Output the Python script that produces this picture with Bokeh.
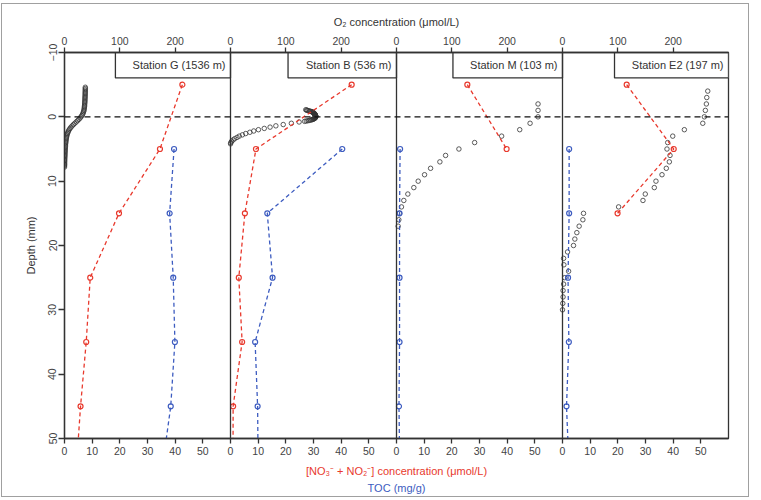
from bokeh.plotting import figure
from bokeh.models import Range1d, LinearAxis, FixedTicker, Span, Title
from bokeh.core.properties import value
from bokeh.embed import file_html
from bokeh.resources import INLINE

# ---- stations -------------------------------------------------------------
stations = ["G", "B", "M", "E2"]
water_depth_m = [1536, 536, 103, 197]

# ---- O2 microprofiles: depth (mm) and O2 (umol/L) ----------------------------
o2_G_depth = [-4.6, -4.4, -4.2, -4.0, -3.8, -3.6, -3.4, -3.2, -3.0, -2.8, -2.6,
              -2.4, -2.2, -2.0, -1.8, -1.6, -1.4, -1.2, -1.0, -0.8, -0.6, -0.4,
              -0.2, 0.0, 0.2, 0.4, 0.6, 0.8, 1.0, 1.2, 1.4, 1.6, 1.8, 2.0, 2.2,
              2.4, 2.6, 2.8, 3.0, 3.2, 3.4, 3.6, 3.8, 4.0, 4.2, 4.4, 4.6, 4.8,
              5.0, 5.2, 5.4, 5.6, 5.8, 6.0, 6.2, 6.4, 6.6, 6.8, 7.0, 7.2, 7.4,
              7.6, 7.8]
o2_G = [37.6, 37.6, 37.5, 37.5, 37.4, 37.4, 37.3, 37.2, 37.1, 37.0, 36.9,
        36.8, 36.6, 36.5, 36.3, 36.1, 35.8, 35.5, 35.1, 34.5, 33.7, 32.7,
        31.4, 29.8, 28.0, 25.9, 23.6, 21.1, 18.6, 16.2, 13.9, 11.8, 10.0, 8.5,
        7.2, 6.2, 5.3, 4.6, 4.0, 3.5, 3.1, 2.8, 2.5, 2.2, 2.0, 1.8, 1.6, 1.4,
        1.3, 1.1, 1.0, 0.9, 0.8, 0.7, 0.6, 0.5, 0.4, 0.3, 0.3, 0.2, 0.2,
        0.1, 0.1]

o2_B_depth = [-1.1, -1.05, -1.0, -0.95, -0.9, -0.85, -0.8, -0.75, -0.7, -0.65,
              -0.6, -0.55, -0.5, -0.45, -0.4, -0.35, -0.3, -0.25, -0.2, -0.15,
              -0.1, -0.05, 0.0, 0.05, 0.1, 0.15, 0.2, 0.25, 0.3, 0.35, 0.4,
              0.45, 0.5, 0.55, 0.6, 0.65, 0.7,
              0.8, 1.0, 1.2, 1.4, 1.6, 1.8, 2.0, 2.2, 2.4, 2.6, 2.8, 3.0, 3.2,
              3.4, 3.6, 3.8, 4.0, 4.2]
o2_B = [136, 137.5, 139, 141, 143, 145, 147, 148, 149, 149.8,
        150.5, 151, 151.5, 152, 152.5, 152.9, 153.2, 153.5, 153.7, 153.9,
        154, 154, 154, 153.8, 153.5, 153, 152.5, 151.8, 151, 149.8, 148.5,
        147, 145, 142.7, 140, 137, 134,
        124, 110, 95.3, 82, 71.5, 61, 50.5, 42, 35, 27.5, 21.5, 15.8, 11.8,
        7.5, 4.6, 2.0, 0.6, 0.1]

o2_M_depth = [-2, -1, 0, 1, 2, 3, 4, 5, 6, 7, 8, 9, 10, 11, 12, 13, 14, 15,
              16, 17]
o2_M = [255.8, 255.8, 255.8, 241.4, 222.7, 190, 141.2, 112.8, 88.7, 78.4,
        61.6, 50.7, 39.2, 31.3, 20.5, 13.2, 9, 5.4, 4.2, 3]

o2_E2_depth = [-4, -3, -2, -1, 0, 1, 2, 3, 4, 5, 6, 7, 8, 9, 10, 11, 12, 13,
               14, 15, 16, 17, 18, 19, 20, 21, 22, 23, 24, 25, 26, 27, 28, 29,
               30]
o2_E2 = [262.5, 260.7, 260, 258.2, 256.4, 253.5, 220.2, 199.2, 190.1, 188.8,
         194.3, 193.1, 187.6, 179.8, 168.9, 165.9, 149.6, 145.4, 101.4, 38,
         36.8, 30.1, 25.9, 22.3, 19.9, 9.1, 2, 2.5, 11, 4, 2, 1, 1, 0.5, 0]

# ---- NO3- + NO2- (umol/L), bottom water (-5) and slice mid-depths (mm) -------
nox_G_depth = [-5, 5, 15, 25, 35, 45, 55]
nox_G = [42.6, 34.5, 19.7, 9.3, 7.85, 5.8, 4.2]
nox_B_depth = [-5, 5, 15, 25, 35, 45, 55]
nox_B = [43.8, 9.2, 5.2, 3.0, 4.2, 0.95, 0.9]
nox_M_depth = [-5, 5]
nox_M = [25.6, 39.8]
nox_E2_depth = [-5, 5, 15]
nox_E2 = [23.2, 40.2, 19.9]

# ---- TOC (mg/g) at slice mid-depths (mm) -------------------------------------
toc_depth = [5, 15, 25, 35, 45, 55]
toc_G = [39.6, 38.0, 39.3, 39.9, 38.4, 35.2]
toc_B = [40.4, 13.3, 15.2, 8.9, 9.8, 10.0]
toc_M = [1.3, 1.1, 1.1, 1.1, 0.9, 1.2]
toc_E2 = [2.4, 2.4, 2.0, 2.3, 1.45, 2.4]

o2_ticks = [0, 100, 200]
low_ticks = [0, 10, 20, 30, 40, 50]
depth_ticks = [-10, 0, 10, 20, 30, 40, 50]

# ---- layout -------------------------------------------------------------------
FONT = "Liberation Sans"
RED = "#e8392d"
BLUE = "#3d5cc0"
INK = "#333333"
O2_SPAN = 300          # O2 units per panel
LOW_SPAN = 60          # NOx / TOC units per panel
n = len(stations)

# the canvas sits inside a thin grey page border
p = figure(width=748, height=494, output_backend="svg", toolbar_location=None,
           x_range=Range1d(0, O2_SPAN * n), y_range=Range1d(50, -10),
           x_axis_location="above",
           min_border_left=62, min_border_right=22,
           min_border_top=48, min_border_bottom=60,
           styles={"border": "1.5px solid #a0a0a0",
                   "margin-left": "1px", "margin-top": "3px"})
p.xgrid.visible = False
p.ygrid.visible = False
p.background_fill_color = "white"
p.border_fill_color = "white"
p.outline_line_color = INK
p.outline_line_width = 1.3

for k in range(n):
    p.extra_x_ranges[f"o2_{k}"] = Range1d(-O2_SPAN * k, O2_SPAN * (n - k))
    p.extra_x_ranges[f"low_{k}"] = Range1d(-LOW_SPAN * k, LOW_SPAN * (n - k))


def style_axis(ax, label_color=INK):
    ax.axis_line_color = INK
    ax.axis_line_width = 1.3
    ax.major_tick_line_color = INK
    ax.major_tick_line_width = 1.3
    ax.major_tick_in = 0
    ax.major_tick_out = 5
    ax.minor_tick_line_color = None
    ax.major_label_text_font = FONT
    ax.major_label_text_font_size = "10.5px"
    ax.major_label_text_color = "#444444"
    ax.axis_label_text_font = FONT
    ax.axis_label_text_font_size = "11px"
    ax.axis_label_text_font_style = "normal"
    ax.axis_label_text_color = label_color


# top axis: O2 per panel
top_ticks = [O2_SPAN * k + t for k in range(n) for t in o2_ticks]
top = p.xaxis[0]
top.ticker = FixedTicker(ticks=top_ticks)
top.major_label_overrides = {t: str(t % O2_SPAN) for t in top_ticks}
style_axis(top)
top.major_label_standoff = 3
top.axis_label = "O\u2082 concentration (\u03bcmol/L)"
top.axis_label_standoff = 6

# bottom axis: NOx / TOC per panel
bot_ticks = [LOW_SPAN * k + t for k in range(n) for t in low_ticks]
bottom = LinearAxis(x_range_name="low_0", ticker=FixedTicker(ticks=bot_ticks),
                    major_label_overrides={t: str(t % LOW_SPAN) for t in bot_ticks})
style_axis(bottom, RED)
bottom.major_label_standoff = 3
bottom.axis_label = "[NO\u2083\u207b + NO\u2082\u207b] concentration (\u03bcmol/L)"
bottom.axis_label_standoff = 7
p.add_layout(bottom, "below")
p.add_layout(Title(text="TOC (mg/g)", align="center", text_color=BLUE,
                   text_font=FONT, text_font_size="11px",
                   text_font_style="normal", standoff=0, offset=0), "below")

# depth axis
left = p.yaxis[0]
left.ticker = FixedTicker(ticks=depth_ticks)
left.major_label_overrides = {-10: "\u221210"}
left.major_label_orientation = "vertical"
style_axis(left)
left.major_tick_out = 6
left.major_label_standoff = 2
left.axis_label = "Depth (mm)"
left.axis_label_standoff = 9

# panel separators and sediment-water interface
for k in range(1, n):
    p.add_layout(Span(location=O2_SPAN * k, dimension="height",
                      line_color=INK, line_width=1.3))
p.add_layout(Span(location=0, dimension="width", line_color="#111111",
                  line_width=1.2, line_dash="6 4"))

o2_data = [(o2_G_depth, o2_G), (o2_B_depth, o2_B),
           (o2_M_depth, o2_M), (o2_E2_depth, o2_E2)]
nox_data = [(nox_G_depth, nox_G), (nox_B_depth, nox_B),
            (nox_M_depth, nox_M), (nox_E2_depth, nox_E2)]
toc_data = [toc_G, toc_B, toc_M, toc_E2]

for k in range(n):
    d, v = o2_data[k]
    p.scatter(x=v, y=d, x_range_name=f"o2_{k}", marker="circle", size=4.5,
              fill_color=None, line_color="#333333", line_width=0.8)

    d, v = nox_data[k]
    p.line(x=v, y=d, x_range_name=f"low_{k}", line_color=RED,
           line_width=1.3, line_dash="4 3")
    p.scatter(x=v, y=d, x_range_name=f"low_{k}", marker="circle", size=5,
              fill_color=None, line_color=RED, line_width=1.2)

    v = toc_data[k]
    p.line(x=v, y=toc_depth, x_range_name=f"low_{k}", line_color=BLUE,
           line_width=1.3, line_dash="4 3")
    p.scatter(x=v, y=toc_depth, x_range_name=f"low_{k}", marker="circle",
              size=5, fill_color=None, line_color=BLUE, line_width=1.2)

# station boxes in the upper right corner of each panel
box_left = [92, 404, 702, 994]
box_right = [O2_SPAN * (k + 1) for k in range(n)]
p.quad(left=box_left, right=box_right, top=-10, bottom=-6.05,
       fill_color="white", line_color=INK, line_width=1.3)
p.text(x=[r - 9 for r in box_right], y=[-8] * n,
       text=[f"Station {s} ({m} m)" for s, m in zip(stations, water_depth_m)],
       text_align="right", text_baseline="middle",
       text_font=value(FONT), text_font_size="11px", text_color=INK)

open("out.html", "w").write(file_html(p, INLINE))
